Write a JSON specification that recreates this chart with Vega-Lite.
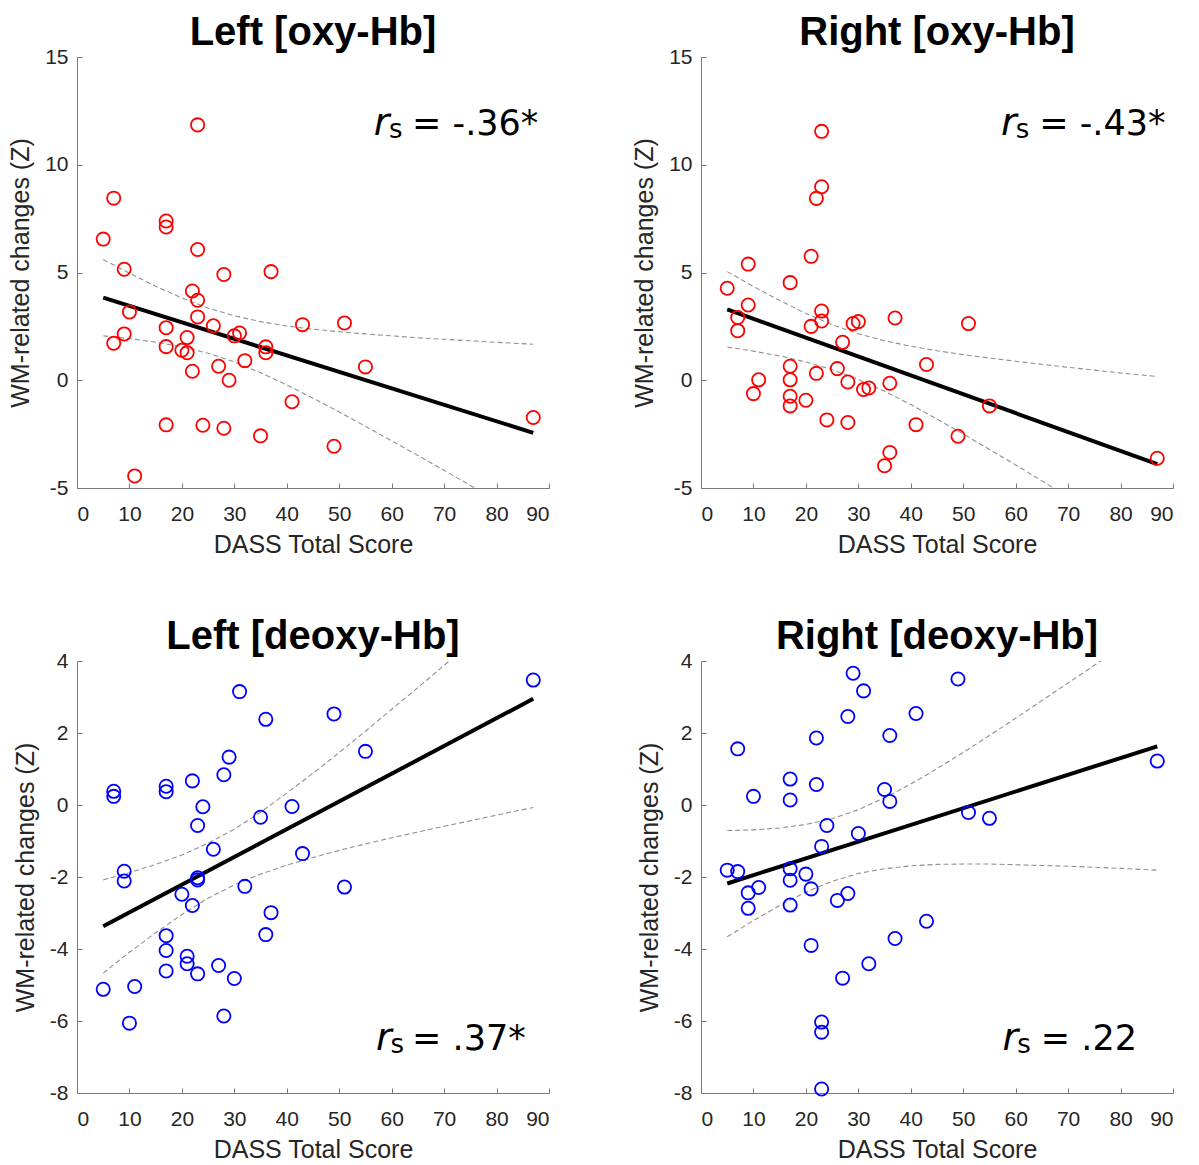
{
  "$schema": "https://vega.github.io/schema/vega-lite/v6.json",
  "background": "white",
  "padding": {"left": 8, "top": 13, "right": 5, "bottom": 5},
  "bounds": "flush",
  "columns": 2,
  "spacing": {"row": 173, "column": 152},
  "config": {
    "view": {"stroke": null},
    "font": "Liberation Sans",
    "axis": {
      "grid": false,
      "domainColor": "#7a7a7a",
      "domainWidth": 1,
      "tickColor": "#7a7a7a",
      "tickSize": -5,
      "labelFont": "Liberation Sans",
      "labelFontSize": 21,
      "labelColor": "#262626",
      "titleFont": "Liberation Sans",
      "titleFontSize": 25,
      "titleFontWeight": "normal",
      "titleColor": "#262626"
    },
    "axisX": {"labelPadding": 20, "titlePadding": 8},
    "axisY": {"labelPadding": 14, "titlePadding": 11},
    "title": {"font": "Liberation Sans", "fontSize": 40, "fontWeight": "bold", "color": "#000000", "anchor": "middle", "offset": -7}
  },
  "datasets": {
    "pts": [
      {"panel":"TL","dass":23,"z":11.85},{"panel":"TL","dass":7,"z":8.45},{"panel":"TL","dass":17,"z":7.39},{"panel":"TL","dass":17,"z":7.11},{"panel":"TL","dass":5,"z":6.55},{"panel":"TL","dass":23,"z":6.07},{"panel":"TL","dass":9,"z":5.15},{"panel":"TL","dass":28,"z":4.91},{"panel":"TL","dass":37,"z":5.04},{"panel":"TL","dass":22,"z":4.14},
      {"panel":"TL","dass":23,"z":3.71},{"panel":"TL","dass":10,"z":3.17},{"panel":"TL","dass":23,"z":2.94},{"panel":"TL","dass":17,"z":2.44},{"panel":"TL","dass":26,"z":2.53},{"panel":"TL","dass":43,"z":2.58},{"panel":"TL","dass":51,"z":2.66},{"panel":"TL","dass":9,"z":2.15},{"panel":"TL","dass":31,"z":2.19},{"panel":"TL","dass":30,"z":2.06},
      {"panel":"TL","dass":21,"z":1.98},{"panel":"TL","dass":7,"z":1.72},{"panel":"TL","dass":17,"z":1.56},{"panel":"TL","dass":20,"z":1.39},{"panel":"TL","dass":21,"z":1.28},{"panel":"TL","dass":36,"z":1.55},{"panel":"TL","dass":36,"z":1.28},{"panel":"TL","dass":32,"z":0.91},{"panel":"TL","dass":55,"z":0.62},{"panel":"TL","dass":27,"z":0.65},
      {"panel":"TL","dass":22,"z":0.42},{"panel":"TL","dass":29,"z":0.0},{"panel":"TL","dass":41,"z":-1.0},{"panel":"TL","dass":17,"z":-2.07},{"panel":"TL","dass":24,"z":-2.09},{"panel":"TL","dass":28,"z":-2.23},{"panel":"TL","dass":35,"z":-2.58},{"panel":"TL","dass":49,"z":-3.06},{"panel":"TL","dass":11,"z":-4.44},{"panel":"TL","dass":87,"z":-1.73},

      {"panel":"TR","dass":23,"z":11.55},{"panel":"TR","dass":23,"z":8.98},{"panel":"TR","dass":22,"z":8.44},{"panel":"TR","dass":21,"z":5.75},{"panel":"TR","dass":9,"z":5.39},{"panel":"TR","dass":17,"z":4.53},{"panel":"TR","dass":5,"z":4.27},{"panel":"TR","dass":9,"z":3.49},{"panel":"TR","dass":7,"z":2.91},{"panel":"TR","dass":7,"z":2.30},
      {"panel":"TR","dass":23,"z":3.21},{"panel":"TR","dass":23,"z":2.75},{"panel":"TR","dass":21,"z":2.50},{"panel":"TR","dass":29,"z":2.63},{"panel":"TR","dass":30,"z":2.72},{"panel":"TR","dass":37,"z":2.89},{"panel":"TR","dass":51,"z":2.63},{"panel":"TR","dass":27,"z":1.76},{"panel":"TR","dass":17,"z":0.65},{"panel":"TR","dass":26,"z":0.54},
      {"panel":"TR","dass":22,"z":0.32},{"panel":"TR","dass":43,"z":0.73},{"panel":"TR","dass":11,"z":0.02},{"panel":"TR","dass":17,"z":0.02},{"panel":"TR","dass":28,"z":-0.08},{"panel":"TR","dass":36,"z":-0.14},{"panel":"TR","dass":31,"z":-0.43},{"panel":"TR","dass":32,"z":-0.36},{"panel":"TR","dass":10,"z":-0.62},{"panel":"TR","dass":17,"z":-0.74},
      {"panel":"TR","dass":20,"z":-0.93},{"panel":"TR","dass":17,"z":-1.19},{"panel":"TR","dass":55,"z":-1.19},{"panel":"TR","dass":24,"z":-1.84},{"panel":"TR","dass":28,"z":-1.96},{"panel":"TR","dass":41,"z":-2.06},{"panel":"TR","dass":49,"z":-2.60},{"panel":"TR","dass":36,"z":-3.35},{"panel":"TR","dass":35,"z":-3.97},{"panel":"TR","dass":87,"z":-3.62},

      {"panel":"BL","dass":87,"z":3.47},{"panel":"BL","dass":31,"z":3.15},{"panel":"BL","dass":36,"z":2.38},{"panel":"BL","dass":49,"z":2.53},{"panel":"BL","dass":55,"z":1.49},{"panel":"BL","dass":29,"z":1.33},{"panel":"BL","dass":28,"z":0.84},{"panel":"BL","dass":22,"z":0.67},{"panel":"BL","dass":7,"z":0.38},{"panel":"BL","dass":7,"z":0.24},
      {"panel":"BL","dass":17,"z":0.52},{"panel":"BL","dass":17,"z":0.37},{"panel":"BL","dass":24,"z":-0.05},{"panel":"BL","dass":41,"z":-0.04},{"panel":"BL","dass":35,"z":-0.34},{"panel":"BL","dass":23,"z":-0.57},{"panel":"BL","dass":26,"z":-1.23},{"panel":"BL","dass":43,"z":-1.35},{"panel":"BL","dass":9,"z":-1.84},{"panel":"BL","dass":9,"z":-2.11},
      {"panel":"BL","dass":23,"z":-2.02},{"panel":"BL","dass":23,"z":-2.08},{"panel":"BL","dass":32,"z":-2.26},{"panel":"BL","dass":51,"z":-2.28},{"panel":"BL","dass":20,"z":-2.48},{"panel":"BL","dass":22,"z":-2.79},{"panel":"BL","dass":37,"z":-2.99},{"panel":"BL","dass":36,"z":-3.60},{"panel":"BL","dass":17,"z":-3.63},{"panel":"BL","dass":17,"z":-4.04},
      {"panel":"BL","dass":21,"z":-4.20},{"panel":"BL","dass":21,"z":-4.41},{"panel":"BL","dass":17,"z":-4.61},{"panel":"BL","dass":23,"z":-4.69},{"panel":"BL","dass":27,"z":-4.46},{"panel":"BL","dass":30,"z":-4.82},{"panel":"BL","dass":5,"z":-5.12},{"panel":"BL","dass":11,"z":-5.04},{"panel":"BL","dass":10,"z":-6.06},{"panel":"BL","dass":28,"z":-5.86},

      {"panel":"BR","dass":29,"z":3.66},{"panel":"BR","dass":31,"z":3.17},{"panel":"BR","dass":49,"z":3.50},{"panel":"BR","dass":28,"z":2.46},{"panel":"BR","dass":41,"z":2.54},{"panel":"BR","dass":36,"z":1.93},{"panel":"BR","dass":22,"z":1.86},{"panel":"BR","dass":7,"z":1.56},{"panel":"BR","dass":17,"z":0.72},{"panel":"BR","dass":22,"z":0.57},
      {"panel":"BR","dass":35,"z":0.43},{"panel":"BR","dass":36,"z":0.10},{"panel":"BR","dass":10,"z":0.24},{"panel":"BR","dass":17,"z":0.14},{"panel":"BR","dass":87,"z":1.22},{"panel":"BR","dass":51,"z":-0.21},{"panel":"BR","dass":55,"z":-0.37},{"panel":"BR","dass":24,"z":-0.57},{"panel":"BR","dass":30,"z":-0.79},{"panel":"BR","dass":23,"z":-1.15},
      {"panel":"BR","dass":5,"z":-1.81},{"panel":"BR","dass":7,"z":-1.85},{"panel":"BR","dass":17,"z":-1.77},{"panel":"BR","dass":17,"z":-2.09},{"panel":"BR","dass":20,"z":-1.92},{"panel":"BR","dass":11,"z":-2.29},{"panel":"BR","dass":9,"z":-2.44},{"panel":"BR","dass":9,"z":-2.87},{"panel":"BR","dass":21,"z":-2.33},{"panel":"BR","dass":26,"z":-2.65},
      {"panel":"BR","dass":28,"z":-2.46},{"panel":"BR","dass":17,"z":-2.78},{"panel":"BR","dass":43,"z":-3.23},{"panel":"BR","dass":37,"z":-3.71},{"panel":"BR","dass":21,"z":-3.90},{"panel":"BR","dass":32,"z":-4.41},{"panel":"BR","dass":27,"z":-4.81},{"panel":"BR","dass":23,"z":-6.03},{"panel":"BR","dass":23,"z":-6.31},{"panel":"BR","dass":23,"z":-7.89}
    ],
    "fit": [
      {"panel":"TL","dass":5,"z":3.83},{"panel":"TL","dass":87,"z":-2.44},
      {"panel":"TR","dass":5,"z":3.29},{"panel":"TR","dass":87,"z":-3.89},
      {"panel":"BL","dass":5,"z":-3.37},{"panel":"BL","dass":87,"z":2.95},
      {"panel":"BR","dass":5,"z":-2.18},{"panel":"BR","dass":87,"z":1.63}
    ],
    "ci": [
      {"panel":"TL","bound":"upper","dass":5,"z":5.60},{"panel":"TL","bound":"upper","dass":10,"z":4.97},{"panel":"TL","bound":"upper","dass":15,"z":4.36},{"panel":"TL","bound":"upper","dass":20,"z":3.82},{"panel":"TL","bound":"upper","dass":25,"z":3.35},{"panel":"TL","bound":"upper","dass":30,"z":2.99},{"panel":"TL","bound":"upper","dass":35,"z":2.72},{"panel":"TL","bound":"upper","dass":40,"z":2.52},{"panel":"TL","bound":"upper","dass":45,"z":2.37},{"panel":"TL","bound":"upper","dass":50,"z":2.25},{"panel":"TL","bound":"upper","dass":55,"z":2.15},{"panel":"TL","bound":"upper","dass":60,"z":2.06},{"panel":"TL","bound":"upper","dass":65,"z":1.97},{"panel":"TL","bound":"upper","dass":70,"z":1.90},{"panel":"TL","bound":"upper","dass":75,"z":1.83},{"panel":"TL","bound":"upper","dass":80,"z":1.76},{"panel":"TL","bound":"upper","dass":87,"z":1.67},
      {"panel":"TL","bound":"lower","dass":5,"z":2.06},{"panel":"TL","bound":"lower","dass":10,"z":1.93},{"panel":"TL","bound":"lower","dass":15,"z":1.77},{"panel":"TL","bound":"lower","dass":20,"z":1.55},{"panel":"TL","bound":"lower","dass":25,"z":1.25},{"panel":"TL","bound":"lower","dass":30,"z":0.85},{"panel":"TL","bound":"lower","dass":35,"z":0.35},{"panel":"TL","bound":"lower","dass":40,"z":-0.22},{"panel":"TL","bound":"lower","dass":45,"z":-0.83},{"panel":"TL","bound":"lower","dass":50,"z":-1.47},{"panel":"TL","bound":"lower","dass":55,"z":-2.14},{"panel":"TL","bound":"lower","dass":60,"z":-2.81},{"panel":"TL","bound":"lower","dass":65,"z":-3.49},{"panel":"TL","bound":"lower","dass":70,"z":-4.18},{"panel":"TL","bound":"lower","dass":75,"z":-4.88},{"panel":"TL","bound":"lower","dass":80,"z":-5.57},{"panel":"TL","bound":"lower","dass":87,"z":-6.55},

      {"panel":"TR","bound":"upper","dass":5,"z":5.04},{"panel":"TR","bound":"upper","dass":10,"z":4.35},{"panel":"TR","bound":"upper","dass":15,"z":3.70},{"panel":"TR","bound":"upper","dass":20,"z":3.10},{"panel":"TR","bound":"upper","dass":25,"z":2.58},{"panel":"TR","bound":"upper","dass":30,"z":2.16},{"panel":"TR","bound":"upper","dass":35,"z":1.83},{"panel":"TR","bound":"upper","dass":40,"z":1.58},{"panel":"TR","bound":"upper","dass":45,"z":1.37},{"panel":"TR","bound":"upper","dass":50,"z":1.19},{"panel":"TR","bound":"upper","dass":55,"z":1.03},{"panel":"TR","bound":"upper","dass":60,"z":0.88},{"panel":"TR","bound":"upper","dass":65,"z":0.74},{"panel":"TR","bound":"upper","dass":70,"z":0.60},{"panel":"TR","bound":"upper","dass":75,"z":0.47},{"panel":"TR","bound":"upper","dass":80,"z":0.34},{"panel":"TR","bound":"upper","dass":87,"z":0.17},
      {"panel":"TR","bound":"lower","dass":5,"z":1.54},{"panel":"TR","bound":"lower","dass":10,"z":1.35},{"panel":"TR","bound":"lower","dass":15,"z":1.13},{"panel":"TR","bound":"lower","dass":20,"z":0.85},{"panel":"TR","bound":"lower","dass":25,"z":0.49},{"panel":"TR","bound":"lower","dass":30,"z":0.04},{"panel":"TR","bound":"lower","dass":35,"z":-0.51},{"panel":"TR","bound":"lower","dass":40,"z":-1.13},{"panel":"TR","bound":"lower","dass":45,"z":-1.80},{"panel":"TR","bound":"lower","dass":50,"z":-2.49},{"panel":"TR","bound":"lower","dass":55,"z":-3.21},{"panel":"TR","bound":"lower","dass":60,"z":-3.93},{"panel":"TR","bound":"lower","dass":65,"z":-4.67},{"panel":"TR","bound":"lower","dass":70,"z":-5.41},{"panel":"TR","bound":"lower","dass":75,"z":-6.15},{"panel":"TR","bound":"lower","dass":80,"z":-6.90},{"panel":"TR","bound":"lower","dass":87,"z":-7.95},

      {"panel":"BL","bound":"upper","dass":5,"z":-2.08},{"panel":"BL","bound":"upper","dass":10,"z":-1.88},{"panel":"BL","bound":"upper","dass":15,"z":-1.65},{"panel":"BL","bound":"upper","dass":20,"z":-1.39},{"panel":"BL","bound":"upper","dass":25,"z":-1.06},{"panel":"BL","bound":"upper","dass":30,"z":-0.67},{"panel":"BL","bound":"upper","dass":35,"z":-0.20},{"panel":"BL","bound":"upper","dass":40,"z":0.33},{"panel":"BL","bound":"upper","dass":45,"z":0.88},{"panel":"BL","bound":"upper","dass":50,"z":1.46},{"panel":"BL","bound":"upper","dass":55,"z":2.05},{"panel":"BL","bound":"upper","dass":60,"z":2.66},{"panel":"BL","bound":"upper","dass":65,"z":3.26},{"panel":"BL","bound":"upper","dass":70,"z":3.88},{"panel":"BL","bound":"upper","dass":75,"z":4.49},{"panel":"BL","bound":"upper","dass":80,"z":5.11},{"panel":"BL","bound":"upper","dass":87,"z":5.97},
      {"panel":"BL","bound":"lower","dass":5,"z":-4.67},{"panel":"BL","bound":"lower","dass":10,"z":-4.09},{"panel":"BL","bound":"lower","dass":15,"z":-3.55},{"panel":"BL","bound":"lower","dass":20,"z":-3.04},{"panel":"BL","bound":"lower","dass":25,"z":-2.59},{"panel":"BL","bound":"lower","dass":30,"z":-2.22},{"panel":"BL","bound":"lower","dass":35,"z":-1.92},{"panel":"BL","bound":"lower","dass":40,"z":-1.67},{"panel":"BL","bound":"lower","dass":45,"z":-1.46},{"panel":"BL","bound":"lower","dass":50,"z":-1.26},{"panel":"BL","bound":"lower","dass":55,"z":-1.08},{"panel":"BL","bound":"lower","dass":60,"z":-0.91},{"panel":"BL","bound":"lower","dass":65,"z":-0.75},{"panel":"BL","bound":"lower","dass":70,"z":-0.59},{"panel":"BL","bound":"lower","dass":75,"z":-0.44},{"panel":"BL","bound":"lower","dass":80,"z":-0.28},{"panel":"BL","bound":"lower","dass":87,"z":-0.07},

      {"panel":"BR","bound":"upper","dass":5,"z":-0.71},{"panel":"BR","bound":"upper","dass":10,"z":-0.69},{"panel":"BR","bound":"upper","dass":15,"z":-0.64},{"panel":"BR","bound":"upper","dass":20,"z":-0.54},{"panel":"BR","bound":"upper","dass":25,"z":-0.38},{"panel":"BR","bound":"upper","dass":30,"z":-0.13},{"panel":"BR","bound":"upper","dass":35,"z":0.20},{"panel":"BR","bound":"upper","dass":40,"z":0.58},{"panel":"BR","bound":"upper","dass":45,"z":1.01},{"panel":"BR","bound":"upper","dass":50,"z":1.46},{"panel":"BR","bound":"upper","dass":55,"z":1.93},{"panel":"BR","bound":"upper","dass":60,"z":2.41},{"panel":"BR","bound":"upper","dass":65,"z":2.90},{"panel":"BR","bound":"upper","dass":70,"z":3.39},{"panel":"BR","bound":"upper","dass":75,"z":3.88},{"panel":"BR","bound":"upper","dass":80,"z":4.38},{"panel":"BR","bound":"upper","dass":87,"z":5.07},
      {"panel":"BR","bound":"lower","dass":5,"z":-3.66},{"panel":"BR","bound":"lower","dass":10,"z":-3.21},{"panel":"BR","bound":"lower","dass":15,"z":-2.79},{"panel":"BR","bound":"lower","dass":20,"z":-2.42},{"panel":"BR","bound":"lower","dass":25,"z":-2.12},{"panel":"BR","bound":"lower","dass":30,"z":-1.90},{"panel":"BR","bound":"lower","dass":35,"z":-1.77},{"panel":"BR","bound":"lower","dass":40,"z":-1.69},{"panel":"BR","bound":"lower","dass":45,"z":-1.65},{"panel":"BR","bound":"lower","dass":50,"z":-1.64},{"panel":"BR","bound":"lower","dass":55,"z":-1.64},{"panel":"BR","bound":"lower","dass":60,"z":-1.66},{"panel":"BR","bound":"lower","dass":65,"z":-1.68},{"panel":"BR","bound":"lower","dass":70,"z":-1.70},{"panel":"BR","bound":"lower","dass":75,"z":-1.73},{"panel":"BR","bound":"lower","dass":80,"z":-1.76},{"panel":"BR","bound":"lower","dass":87,"z":-1.81}
    ]
  },
  "concat": [
    {
      "title": "Left [oxy-Hb]",
      "width": 472, "height": 431,
      "layer": [
        {"data": {"name": "ci"}, "transform": [{"filter": "datum.panel === 'TL'"}],
         "mark": {"type": "line", "color": "#909090", "strokeWidth": 1.1, "strokeDash": [5, 3], "clip": true},
         "encoding": {
           "x": {"field": "dass", "type": "quantitative", "scale": {"domain": [0, 90], "nice": false}, "axis": {"values": [0,10,20,30,40,50,60,70,80,90], "title": "DASS Total Score"}},
           "y": {"field": "z", "type": "quantitative", "scale": {"domain": [-5, 15], "nice": false}, "axis": {"values": [-5,0,5,10,15], "title": "WM-related changes (Z)", "labelExpr": "replace(datum.label, '\u2212', '-')"}},
           "detail": {"field": "bound"}}},
        {"data": {"name": "fit"}, "transform": [{"filter": "datum.panel === 'TL'"}],
         "mark": {"type": "line", "color": "#000000", "strokeWidth": 4},
         "encoding": {"x": {"field": "dass", "type": "quantitative"}, "y": {"field": "z", "type": "quantitative"}}},
        {"data": {"name": "pts"}, "transform": [{"filter": "datum.panel === 'TL'"}],
         "mark": {"type": "point", "shape": "circle", "filled": false, "color": "#ff0000", "size": 175, "strokeWidth": 1.8, "opacity": 1},
         "encoding": {"x": {"field": "dass", "type": "quantitative"}, "y": {"field": "z", "type": "quantitative"}}},
        {"data": {"values": [{"label": "r"}]}, "mark": {"type": "text", "font": "DejaVu Sans", "fontSize": 38, "fontStyle": "italic", "align": "left", "baseline": "alphabetic", "color": "#000000"},
         "encoding": {"text": {"field": "label"}, "x": {"datum": 56.6, "type": "quantitative"}, "y": {"datum": 11.38, "type": "quantitative"}}},
        {"data": {"values": [{"label": "s"}]}, "mark": {"type": "text", "font": "DejaVu Sans", "fontSize": 26, "align": "left", "baseline": "alphabetic", "color": "#000000"},
         "encoding": {"text": {"field": "label"}, "x": {"datum": 59.5, "type": "quantitative"}, "y": {"datum": 11.22, "type": "quantitative"}}},
        {"data": {"values": [{"label": "= -.36*"}]}, "mark": {"type": "text", "font": "DejaVu Sans", "fontSize": 35, "align": "left", "baseline": "alphabetic", "color": "#000000"},
         "encoding": {"text": {"field": "label"}, "x": {"datum": 63.9, "type": "quantitative"}, "y": {"datum": 11.38, "type": "quantitative"}}}
      ]
    },
    {
      "title": "Right [oxy-Hb]",
      "width": 472, "height": 431,
      "layer": [
        {"data": {"name": "ci"}, "transform": [{"filter": "datum.panel === 'TR'"}],
         "mark": {"type": "line", "color": "#909090", "strokeWidth": 1.1, "strokeDash": [5, 3], "clip": true},
         "encoding": {
           "x": {"field": "dass", "type": "quantitative", "scale": {"domain": [0, 90], "nice": false}, "axis": {"values": [0,10,20,30,40,50,60,70,80,90], "title": "DASS Total Score"}},
           "y": {"field": "z", "type": "quantitative", "scale": {"domain": [-5, 15], "nice": false}, "axis": {"values": [-5,0,5,10,15], "title": "WM-related changes (Z)", "labelExpr": "replace(datum.label, '\u2212', '-')"}},
           "detail": {"field": "bound"}}},
        {"data": {"name": "fit"}, "transform": [{"filter": "datum.panel === 'TR'"}],
         "mark": {"type": "line", "color": "#000000", "strokeWidth": 4},
         "encoding": {"x": {"field": "dass", "type": "quantitative"}, "y": {"field": "z", "type": "quantitative"}}},
        {"data": {"name": "pts"}, "transform": [{"filter": "datum.panel === 'TR'"}],
         "mark": {"type": "point", "shape": "circle", "filled": false, "color": "#ff0000", "size": 175, "strokeWidth": 1.8, "opacity": 1},
         "encoding": {"x": {"field": "dass", "type": "quantitative"}, "y": {"field": "z", "type": "quantitative"}}},
        {"data": {"values": [{"label": "r"}]}, "mark": {"type": "text", "font": "DejaVu Sans", "fontSize": 38, "fontStyle": "italic", "align": "left", "baseline": "alphabetic", "color": "#000000"},
         "encoding": {"text": {"field": "label"}, "x": {"datum": 57.2, "type": "quantitative"}, "y": {"datum": 11.38, "type": "quantitative"}}},
        {"data": {"values": [{"label": "s"}]}, "mark": {"type": "text", "font": "DejaVu Sans", "fontSize": 26, "align": "left", "baseline": "alphabetic", "color": "#000000"},
         "encoding": {"text": {"field": "label"}, "x": {"datum": 60.0, "type": "quantitative"}, "y": {"datum": 11.22, "type": "quantitative"}}},
        {"data": {"values": [{"label": "= -.43*"}]}, "mark": {"type": "text", "font": "DejaVu Sans", "fontSize": 35, "align": "left", "baseline": "alphabetic", "color": "#000000"},
         "encoding": {"text": {"field": "label"}, "x": {"datum": 64.5, "type": "quantitative"}, "y": {"datum": 11.38, "type": "quantitative"}}}
      ]
    },
    {
      "title": "Left [deoxy-Hb]",
      "width": 472, "height": 432,
      "layer": [
        {"data": {"name": "ci"}, "transform": [{"filter": "datum.panel === 'BL'"}],
         "mark": {"type": "line", "color": "#909090", "strokeWidth": 1.1, "strokeDash": [5, 3], "clip": true},
         "encoding": {
           "x": {"field": "dass", "type": "quantitative", "scale": {"domain": [0, 90], "nice": false}, "axis": {"values": [0,10,20,30,40,50,60,70,80,90], "title": "DASS Total Score"}},
           "y": {"field": "z", "type": "quantitative", "scale": {"domain": [-8, 4], "nice": false}, "axis": {"values": [-8,-6,-4,-2,0,2,4], "title": "WM-related changes (Z)", "labelExpr": "replace(datum.label, '\u2212', '-')"}},
           "detail": {"field": "bound"}}},
        {"data": {"name": "fit"}, "transform": [{"filter": "datum.panel === 'BL'"}],
         "mark": {"type": "line", "color": "#000000", "strokeWidth": 4},
         "encoding": {"x": {"field": "dass", "type": "quantitative"}, "y": {"field": "z", "type": "quantitative"}}},
        {"data": {"name": "pts"}, "transform": [{"filter": "datum.panel === 'BL'"}],
         "mark": {"type": "point", "shape": "circle", "filled": false, "color": "#0000ff", "size": 175, "strokeWidth": 1.8, "opacity": 1},
         "encoding": {"x": {"field": "dass", "type": "quantitative"}, "y": {"field": "z", "type": "quantitative"}}},
        {"data": {"values": [{"label": "r"}]}, "mark": {"type": "text", "font": "DejaVu Sans", "fontSize": 38, "fontStyle": "italic", "align": "left", "baseline": "alphabetic", "color": "#000000"},
         "encoding": {"text": {"field": "label"}, "x": {"datum": 57.0, "type": "quantitative"}, "y": {"datum": -6.81, "type": "quantitative"}}},
        {"data": {"values": [{"label": "s"}]}, "mark": {"type": "text", "font": "DejaVu Sans", "fontSize": 26, "align": "left", "baseline": "alphabetic", "color": "#000000"},
         "encoding": {"text": {"field": "label"}, "x": {"datum": 59.8, "type": "quantitative"}, "y": {"datum": -6.90, "type": "quantitative"}}},
        {"data": {"values": [{"label": "= .37*"}]}, "mark": {"type": "text", "font": "DejaVu Sans", "fontSize": 35, "align": "left", "baseline": "alphabetic", "color": "#000000"},
         "encoding": {"text": {"field": "label"}, "x": {"datum": 63.9, "type": "quantitative"}, "y": {"datum": -6.81, "type": "quantitative"}}}
      ]
    },
    {
      "title": "Right [deoxy-Hb]",
      "width": 472, "height": 432,
      "layer": [
        {"data": {"name": "ci"}, "transform": [{"filter": "datum.panel === 'BR'"}],
         "mark": {"type": "line", "color": "#909090", "strokeWidth": 1.1, "strokeDash": [5, 3], "clip": true},
         "encoding": {
           "x": {"field": "dass", "type": "quantitative", "scale": {"domain": [0, 90], "nice": false}, "axis": {"values": [0,10,20,30,40,50,60,70,80,90], "title": "DASS Total Score"}},
           "y": {"field": "z", "type": "quantitative", "scale": {"domain": [-8, 4], "nice": false}, "axis": {"values": [-8,-6,-4,-2,0,2,4], "title": "WM-related changes (Z)", "labelExpr": "replace(datum.label, '\u2212', '-')"}},
           "detail": {"field": "bound"}}},
        {"data": {"name": "fit"}, "transform": [{"filter": "datum.panel === 'BR'"}],
         "mark": {"type": "line", "color": "#000000", "strokeWidth": 4},
         "encoding": {"x": {"field": "dass", "type": "quantitative"}, "y": {"field": "z", "type": "quantitative"}}},
        {"data": {"name": "pts"}, "transform": [{"filter": "datum.panel === 'BR'"}],
         "mark": {"type": "point", "shape": "circle", "filled": false, "color": "#0000ff", "size": 175, "strokeWidth": 1.8, "opacity": 1},
         "encoding": {"x": {"field": "dass", "type": "quantitative"}, "y": {"field": "z", "type": "quantitative"}}},
        {"data": {"values": [{"label": "r"}]}, "mark": {"type": "text", "font": "DejaVu Sans", "fontSize": 38, "fontStyle": "italic", "align": "left", "baseline": "alphabetic", "color": "#000000"},
         "encoding": {"text": {"field": "label"}, "x": {"datum": 57.5, "type": "quantitative"}, "y": {"datum": -6.81, "type": "quantitative"}}},
        {"data": {"values": [{"label": "s"}]}, "mark": {"type": "text", "font": "DejaVu Sans", "fontSize": 26, "align": "left", "baseline": "alphabetic", "color": "#000000"},
         "encoding": {"text": {"field": "label"}, "x": {"datum": 60.3, "type": "quantitative"}, "y": {"datum": -6.90, "type": "quantitative"}}},
        {"data": {"values": [{"label": "= .22"}]}, "mark": {"type": "text", "font": "DejaVu Sans", "fontSize": 35, "align": "left", "baseline": "alphabetic", "color": "#000000"},
         "encoding": {"text": {"field": "label"}, "x": {"datum": 64.8, "type": "quantitative"}, "y": {"datum": -6.81, "type": "quantitative"}}}
      ]
    }
  ]
}
